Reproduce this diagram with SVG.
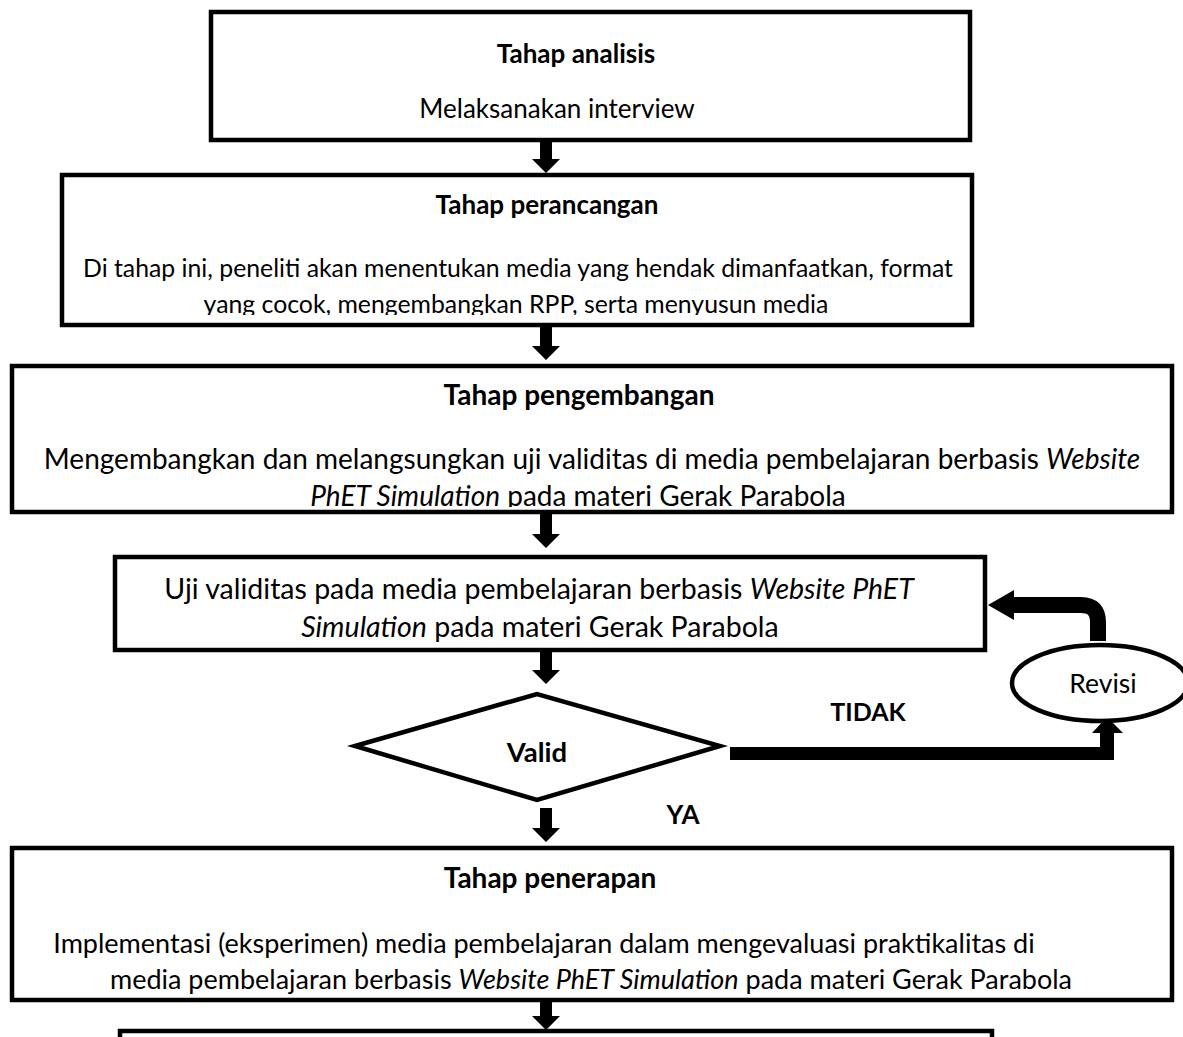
<svg xmlns="http://www.w3.org/2000/svg" width="1183" height="1037" viewBox="0 0 1183 1037">
<style>
.box{fill:#fff;stroke:#000;stroke-width:4.5}
.t{font-family:Lato,"Liberation Sans",sans-serif;font-size:26px;fill:#000;text-anchor:middle}
.b{font-weight:bold}
.i{font-style:italic}
.arr{fill:#000}
</style>
<defs>
<clipPath id="c2"><rect x="62" y="175" width="910" height="140"/></clipPath>
<clipPath id="c3"><rect x="12" y="366" width="1160" height="141"/></clipPath>
</defs>
<g id="connectors">
<polygon class="arr" points="540,140 552,140 552,159 560,159 546,173 532,159 540,159"/>
<polygon class="arr" points="540,325 552,325 552,346 560,346 546,360 532,346 540,346"/>
<polygon class="arr" points="540,514 552,514 552,534 560,534 546,548 532,534 540,534"/>
<polygon class="arr" points="540,651 552,651 552,670 560,670 546,684 532,670 540,670"/>
<polygon class="arr" points="540,808 552,808 552,828 560,828 546,842 532,828 540,828"/>
<polygon class="arr" points="540,1001 552,1001 552,1016 560,1016 546,1030 532,1016 540,1016"/>
<polygon class="arr" points="730,747 1100,747 1100,733 1092,733 1107,717 1123,733 1114,733 1114,760 730,760"/>
<path d="M1098,641 V622 Q1098,605 1081,605 H1012" fill="none" stroke="#000" stroke-width="16"/>
<polygon class="arr" points="988,605 1014,590 1014,620"/>
</g>
<g id="n1">
<rect class="box" x="211" y="12" width="759" height="128"/>
<text class="t b" x="576" y="63">Tahap analisis</text>
<text class="t" x="557" y="118">Melaksanakan interview</text>
</g>
<g id="n2">
<rect class="box" x="62" y="175" width="910" height="150"/>
<text class="t b" x="547" y="214">Tahap perancangan</text>
<text class="t" x="518" y="277" style="font-size:24.8px">Di tahap ini, peneliti akan menentukan media yang hendak dimanfaatkan, format</text>
<text class="t" x="516" y="313" style="font-size:24.8px" clip-path="url(#c2)">yang cocok, mengembangkan RPP, serta menyusun media</text>
</g>
<g id="n3">
<rect class="box" x="12" y="366" width="1160" height="146"/>
<text class="t b" x="579" y="405" style="font-size:28px">Tahap pengembangan</text>
<text class="t" x="592" y="469" style="font-size:28px">Mengembangkan dan melangsungkan uji validitas di media pembelajaran berbasis <tspan class="i">Website</tspan></text>
<text class="t" x="578" y="506" style="font-size:28px" clip-path="url(#c3)"><tspan class="i">PhET Simulation</tspan> pada materi Gerak Parabola</text>
</g>
<g id="n4">
<rect class="box" x="115" y="557" width="870" height="93"/>
<text class="t" x="539" y="599" style="font-size:28.5px">Uji validitas pada media pembelajaran berbasis <tspan class="i">Website PhET</tspan></text>
<text class="t" x="540" y="637" style="font-size:28.5px"><tspan class="i">Simulation</tspan> pada materi Gerak Parabola</text>
</g>
<g id="n5">
<polygon class="box" points="355,746 537,694 720,746 537,800" stroke-width="5"/>
<text class="t b" x="537" y="762" style="font-size:27.5px">Valid</text>
</g>
<g id="n6">
<ellipse class="box" cx="1100" cy="683" rx="88" ry="38"/>
<text class="t" x="1103" y="693" style="font-size:26.5px">Revisi</text>
</g>
<g id="labels">
<text class="t b" x="868" y="721" style="font-size:25px">TIDAK</text>
<text class="t b" x="683" y="824">YA</text>
</g>
<g id="n7">
<rect class="box" x="12" y="848" width="1160" height="152"/>
<text class="t b" x="550" y="888" style="font-size:28px">Tahap penerapan</text>
<text class="t" x="544" y="953" style="font-size:27px">Implementasi (eksperimen) media pembelajaran dalam mengevaluasi praktikalitas di</text>
<text class="t" x="591" y="989" style="font-size:27px">media pembelajaran berbasis <tspan class="i">Website PhET Simulation</tspan> pada materi Gerak Parabola</text>
</g>
<g id="n8">
<rect class="box" x="120" y="1031" width="872" height="40"/>
</g>
</svg>
